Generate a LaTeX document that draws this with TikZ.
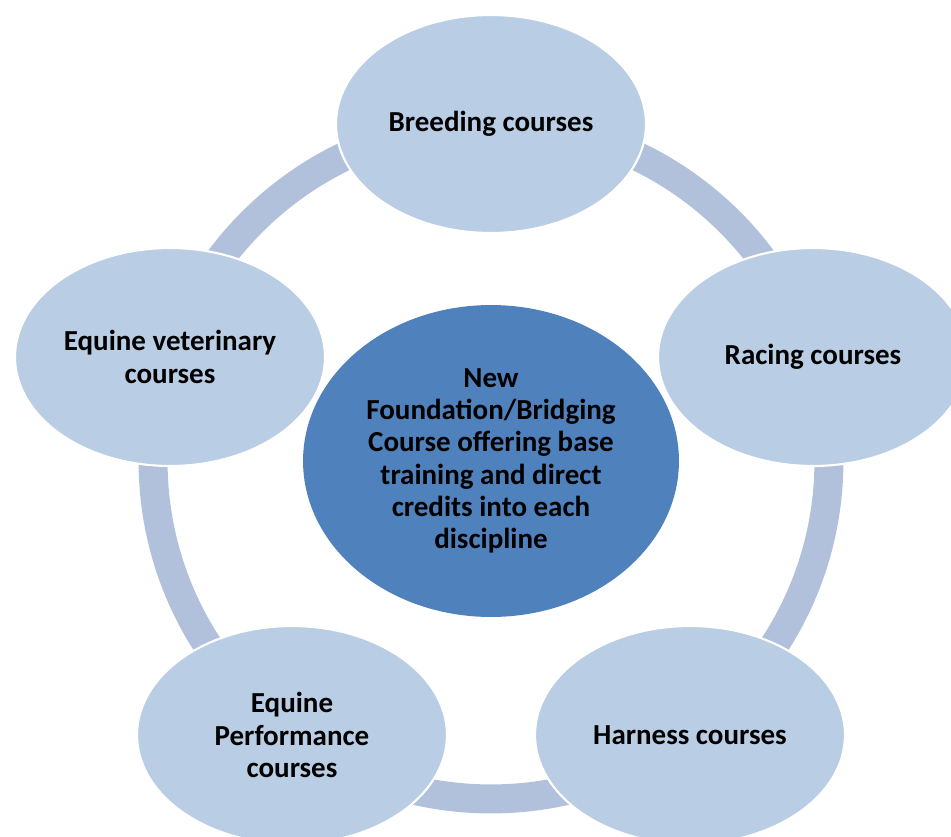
\documentclass[tikz,border=0pt]{standalone}
\usepackage{fontspec}
\setmainfont{Carlito}
\usepackage{tikz}
\usetikzlibrary{shapes.geometric, positioning}
\definecolor{ringblue}{HTML}{B2C1DB}
\definecolor{paleblue}{HTML}{B9CDE4}
\definecolor{hubblue}{HTML}{4F81BD}

\begin{document}
\begin{tikzpicture}[x=0.02cm, y=-0.02cm,
        course/.style={ellipse, fill=paleblue, draw=white, line width=1.2pt, inner sep=0pt,
            minimum width=6.2cm, minimum height=4.36cm, align=center,
            font=\fontsize{16.5}{18.4}\selectfont\bfseries},
        hub/.style={ellipse, fill=hubblue, inner sep=0pt,
            minimum width=7.52cm, minimum height=6.24cm, align=center,
            font=\fontsize{16.5}{18.4}\selectfont\bfseries}]
        \useasboundingbox (0,0) rectangle (951,836);
        \clip (0,0) rectangle (951,836);
        \coordinate (mid) at (491,461);
        % the ring behind the outer courses
        \draw[ringblue, line width=0.58cm] (mid) circle (6.76cm);
        \node[hub] (base) at (mid) {New\\Foundation/Bridging\\Course offering base\\training and direct\\credits into each\\discipline};
        \node[course] (breed) at (491,124) {Breeding courses};
        \node[course] (race) at (813,357) {Racing courses};
        \node[course] (harness) at (690,735) {Harness courses};
        \node[course] (perf) at (292,735) {Equine\\Performance\\courses};
        \node[course] (vet) at (170,357) {Equine veterinary\\courses};
    \end{tikzpicture}
\end{document}
